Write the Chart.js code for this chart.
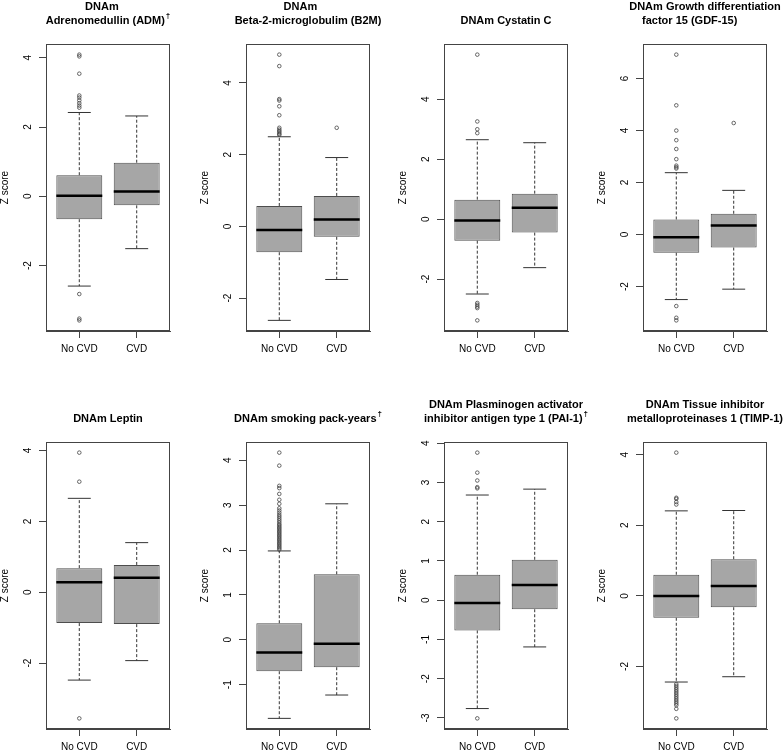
<!DOCTYPE html>
<html>
<head>
<meta charset="utf-8">
<script src="https://cdn.jsdelivr.net/npm/chart.js@4.4.1/dist/chart.umd.min.js"></script>
<style>
  html, body { margin: 0; padding: 0; background: #fff; }
  body { width: 784px; height: 751px; position: relative; overflow: hidden; }
  canvas { position: absolute; }
</style>
</head>
<body>
<script>
const groups = ['No CVD', 'CVD'];

const titles = [
  ['DNAm    ', 'Adrenomedullin (ADM)†'],
  ['DNAm     ', 'Beta-2-microglobulim (B2M)'],
  ['DNAm Cystatin C'],
  ['DNAm Growth differentiation', 'factor 15 (GDF-15)          '],
  ['DNAm Leptin'],
  ['DNAm smoking pack-years†'],
  ['DNAm Plasminogen activator', 'inhibitor antigen type 1 (PAI-1)†'],
  ['DNAm Tissue inhibitor', 'metalloproteinases 1 (TIMP-1)']
];

// each row: [No CVD, CVD]
const whiskerLow  = [[-2.59, -1.51], [-2.62, -1.48], [-2.50, -1.62], [-2.50, -2.10], [-2.48, -1.93], [-1.75, -1.23], [-2.76, -1.19], [-2.44, -2.29]];
const quartile1   = [[-0.66, -0.26], [-0.72, -0.29], [-0.72, -0.45], [-0.70, -0.50], [-0.87, -0.90], [-0.70, -0.61], [-0.77, -0.23], [-0.62, -0.32]];
const medians     = [[ 0.02,  0.14], [-0.10,  0.19], [-0.05,  0.38], [-0.10,  0.35], [ 0.28,  0.41], [-0.28, -0.09], [-0.07,  0.39], [ 0.00,  0.28]];
const quartile3   = [[ 0.61,  0.97], [ 0.57,  0.85], [ 0.65,  0.85], [ 0.58,  0.80], [ 0.68,  0.77], [ 0.37,  1.46], [ 0.65,  1.03], [ 0.60,  1.04]];
const whiskerHigh = [[ 2.42,  2.32], [ 2.50,  1.92], [ 2.65,  2.55], [ 2.38,  1.70], [ 2.65,  1.40], [ 1.98,  3.03], [ 2.68,  2.83], [ 2.41,  2.42]];

const outliersNoCVD = [
  [4.09, 4.04, 3.54, 2.91, 2.85, 2.77, 2.69, 2.62, 2.56, -2.82, -3.53, -3.58],
  [4.79, 4.47, 3.55, 3.51, 3.35, 3.10, 2.75, 2.70, 2.66, 2.62, 2.58, 2.55],
  [5.49, 3.26, 3.00, 2.87, -2.80, -2.86, -2.92, -2.97, -3.38],
  [6.92, 4.97, 4.00, 3.63, 3.29, 2.90, 2.65, 2.59, 2.54, -2.75, -3.20, -3.30],
  [3.94, 3.12, -3.56],
  [4.17, 3.88, 3.43, 3.38, 3.25, 3.12, 3.03, 2.93, 2.88, 2.83, 2.78, 2.74, 2.70, 2.66, 2.62, 2.58, 2.55,
   2.52, 2.49, 2.46, 2.43, 2.40, 2.37, 2.34, 2.31, 2.28, 2.25, 2.22, 2.19, 2.16, 2.13, 2.10, 2.07, 2.04, 2.01],
  [3.76, 3.25, 3.05, 2.88, 2.85, -3.01],
  [4.06, 2.78, 2.75, 2.66, 2.59, -2.50, -2.55, -2.60, -2.65, -2.70, -2.75, -2.80, -2.85, -2.90, -2.95,
   -3.00, -3.05, -3.10, -3.20, -3.47]
];
const outliersCVD = [[], [2.75], [], [4.29], [], [], [], []];

const yTicks = [
  [-2, 0, 2, 4], [-2, 0, 2, 4], [-2, 0, 2, 4], [-2, 0, 2, 4, 6],
  [-2, 0, 2, 4], [-1, 0, 1, 2, 3, 4], [-3, -2, -1, 0, 1, 2, 3, 4], [-2, 0, 2, 4]
];

const columnLefts = [0, 200, 398, 597];
const rowTops = [0, 398];
const FONT = '"Liberation Sans", Arial, Helvetica, sans-serif';
const INK = '#444';

Chart.defaults.font.family = FONT;

function segmentData(segs) {
  const out = [];
  segs.forEach((s, k) => {
    if (k > 0) out.push({ x: s[0][0], y: null });
    out.push({ x: s[0][0], y: s[0][1] }, { x: s[1][0], y: s[1][1] });
  });
  return out;
}

const panelDecor = {
  id: 'panelDecor',
  afterDraw(chart, args, opts) {
    const { ctx, chartArea: a } = chart;
    const ys = chart.scales.y;
    ctx.save();
    // frame
    ctx.strokeStyle = INK;
    ctx.lineWidth = 1;
    ctx.strokeRect(Math.round(a.left) + 0.5, Math.round(a.top) + 0.5,
      Math.round(a.right - a.left) - 1, Math.round(a.bottom - a.top) - 1);

    ctx.fillStyle = '#000';
    ctx.textAlign = 'center';
    ctx.textBaseline = 'middle';
    // rotated y tick labels
    ctx.font = '10px ' + FONT;
    ys.ticks.forEach(t => {
      const y = ys.getPixelForValue(t.value);
      ctx.save();
      ctx.translate(a.left - 18, y);
      ctx.rotate(-Math.PI / 2);
      ctx.fillText(String(t.value), 0, 0);
      ctx.restore();
    });
    // y title
    ctx.save();
    ctx.translate(a.left - 41, (a.top + a.bottom) / 2);
    ctx.rotate(-Math.PI / 2);
    ctx.fillText('Z score', 0, 0);
    ctx.restore();

    // main title, bottom line fixed above plot
    const lines = opts.lines || [];
    const cx = (a.left + a.right) / 2;
    ctx.textAlign = 'left';
    lines.forEach((line, k) => {
      const y = a.top - 23 - (lines.length - 1 - k) * 14;
      const sup = line.endsWith('†');
      const main = sup ? line.slice(0, -1) : line;
      ctx.font = 'bold 11px ' + FONT;
      const w = ctx.measureText(main).width;
      let supW = 0;
      if (sup) {
        ctx.font = 'bold 8px ' + FONT;
        supW = ctx.measureText('†').width + 1;
      }
      const x0 = cx - (w + supW) / 2;
      ctx.font = 'bold 11px ' + FONT;
      ctx.fillText(main, x0, y);
      if (sup) {
        ctx.font = 'bold 8px ' + FONT;
        ctx.fillText('†', x0 + w + 1, y - 5);
      }
    });
    ctx.restore();
  }
};

function makePanel(p) {
  const canvas = document.createElement('canvas');
  canvas.width = 196;
  canvas.height = 375;
  canvas.style.left = columnLefts[p % 4] + 'px';
  canvas.style.top = rowTops[Math.floor(p / 4)] + 'px';
  document.body.appendChild(canvas);

  const all = [].concat(whiskerLow[p], whiskerHigh[p], outliersNoCVD[p], outliersCVD[p]);
  const lo = Math.min(...all), hi = Math.max(...all);
  const pad = (hi - lo) * 0.04;

  const xs = [1, 2];
  const lowerWhiskers = segmentData(xs.map((x, i) => [[x, quartile1[p][i]], [x, whiskerLow[p][i]]]));
  const upperWhiskers = segmentData(xs.map((x, i) => [[x, quartile3[p][i]], [x, whiskerHigh[p][i]]]));
  const caps = segmentData([].concat(
    xs.map((x, i) => [[x - 0.2, whiskerLow[p][i]], [x + 0.2, whiskerLow[p][i]]]),
    xs.map((x, i) => [[x - 0.2, whiskerHigh[p][i]], [x + 0.2, whiskerHigh[p][i]]])
  ));
  const medianLines = segmentData(xs.map((x, i) => [[x - 0.4, medians[p][i]], [x + 0.4, medians[p][i]]]));
  const points = [].concat(
    outliersNoCVD[p].map(v => ({ x: 1, y: v })),
    outliersCVD[p].map(v => ({ x: 2, y: v }))
  );

  const lineBase = { type: 'line', pointRadius: 0, spanGaps: false, fill: false, tension: 0 };

  new Chart(canvas, {
    type: 'bar',
    data: {
      datasets: [
        {
          type: 'bar',
          data: xs.map((x, i) => ({ x: x, y: [quartile1[p][i], quartile3[p][i]] })),
          backgroundColor: '#a6a6a6',
          borderColor: '#4d4d4d',
          borderWidth: 1,
          borderSkipped: false,
          barPercentage: 0.8,
          categoryPercentage: 1,
          order: 5
        },
        Object.assign({}, lineBase, { data: lowerWhiskers, borderColor: '#333', borderWidth: 1, borderDash: [3, 2], order: 4 }),
        Object.assign({}, lineBase, { data: upperWhiskers, borderColor: '#333', borderWidth: 1, borderDash: [3, 2], order: 4 }),
        Object.assign({}, lineBase, { data: caps, borderColor: '#333', borderWidth: 1, order: 3 }),
        Object.assign({}, lineBase, { data: medianLines, borderColor: '#000', borderWidth: 2.5, order: 2 }),
        {
          type: 'scatter',
          data: points,
          pointStyle: 'circle',
          pointRadius: 1.8,
          pointBorderWidth: 0.8,
          pointBorderColor: '#444',
          pointBackgroundColor: 'rgba(0,0,0,0)',
          order: 1
        }
      ]
    },
    options: {
      responsive: false,
      animation: false,
      devicePixelRatio: 1,
      layout: { padding: { top: 44, right: 26, left: 0, bottom: 0 } },
      plugins: {
        legend: { display: false },
        tooltip: { enabled: false },
        panelDecor: { lines: titles[p] }
      },
      scales: {
        x: {
          type: 'linear',
          min: 0.42,
          max: 2.58,
          bounds: 'data',
          offset: false,
          afterBuildTicks: s => { s.ticks = xs.map(v => ({ value: v })); },
          afterFit: s => { s.height = 44; },
          grid: { offset: false, drawOnChartArea: false, drawTicks: true, tickLength: 7, color: INK },
          border: { display: true, color: INK },
          ticks: {
            color: '#000',
            font: { size: 10 },
            padding: 5,
            maxRotation: 0,
            autoSkip: false,
            callback: v => groups[v - 1]
          }
        },
        y: {
          type: 'linear',
          min: lo - pad,
          max: hi + pad,
          bounds: 'data',
          afterBuildTicks: s => { s.ticks = yTicks[p].map(v => ({ value: v })); },
          afterFit: s => { s.width = 46; },
          grid: { drawOnChartArea: false, drawTicks: true, tickLength: 7, color: INK },
          border: { display: true, color: INK },
          ticks: { display: false }
        }
      }
    },
    plugins: [panelDecor]
  });
}

for (let p = 0; p < 8; p++) makePanel(p);
</script>
</body>
</html>
